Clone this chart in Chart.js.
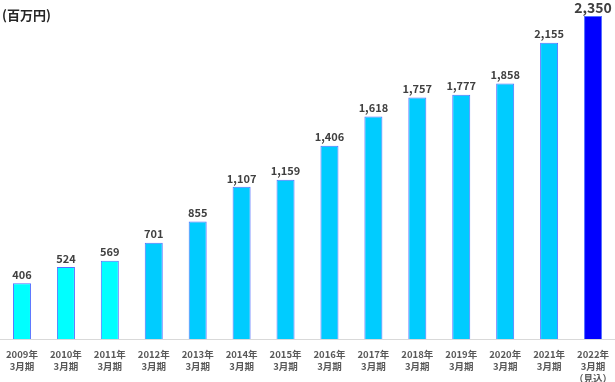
<!DOCTYPE html>
<html><head><meta charset="utf-8">
<script src="https://cdn.jsdelivr.net/npm/chart.js@4/dist/chart.umd.min.js"></script>
<style>
html,body{margin:0;padding:0;background:#fff;}
#wrap{position:relative;width:615px;height:382px;}
#unit{position:absolute;left:2px;top:5px;font:bold 13px 'Noto Sans CJK JP',sans-serif;color:#262626;}
canvas{position:absolute;left:0;top:0;}
</style></head>
<body>
<div id="wrap"><canvas id="c" width="615" height="382"></canvas><div id="unit">(百万円)</div></div>
<script>
const years = ["2009年","2010年","2011年","2012年","2013年","2014年","2015年","2016年","2017年","2018年","2019年","2020年","2021年","2022年"];
const suffix = ["3月期","3月期","3月期","3月期","3月期","3月期","3月期","3月期","3月期","3月期","3月期","3月期","3月期","3月期"];
const extra = ["","","","","","","","","","","","","","（見込）"];
const values = [406,524,569,701,855,1107,1159,1406,1618,1757,1777,1858,2155,2350];
const valueLabels = ["406","524","569","701","855","1,107","1,159","1,406","1,618","1,757","1,777","1,858","2,155","2,350"];
const barColors = ["#00FFFF","#00FFFF","#00FFFF","#00CCFF","#00CCFF","#00CCFF","#00CCFF","#00CCFF","#00CCFF","#00CCFF","#00CCFF","#00CCFF","#00CCFF","#0000FF"];

const labels = years.map((y,i)=> extra[i] ? [y, suffix[i], extra[i]] : [y, suffix[i]]);

const valuePlugin = {
  id:'vals',
  afterDatasetsDraw(chart){
    const ctx = chart.ctx;
    const meta = chart.getDatasetMeta(0);
    ctx.save();
    ctx.textAlign='center';
    ctx.textBaseline='bottom';
    meta.data.forEach((bar,i)=>{
      const last = i===values.length-1;
      ctx.font = (last?'bold 14px':'bold 11px')+" 'Noto Sans CJK JP', sans-serif";
      ctx.fillStyle = '#404040';
      ctx.fillText(valueLabels[i], bar.x, bar.y - (last?1:3));
    });
    ctx.restore();
  }
};

new Chart(document.getElementById('c'),{
  type:'bar',
  data:{labels:labels,datasets:[{data:values,backgroundColor:barColors,borderColor:'#5470ff',borderWidth:1,barPercentage:0.41,categoryPercentage:1}]},
  options:{
    responsive:false,animation:false,
    layout:{padding:{top:16,left:0,right:0,bottom:0}},
    plugins:{legend:{display:false},tooltip:{enabled:false}},
    scales:{
      x:{
        grid:{display:false},
        border:{color:'#d9d9d9',width:1},
        ticks:{color:'#595959',font:{family:"'Noto Sans CJK JP', sans-serif",size:9.5,weight:'bold',lineHeight:1.3},maxRotation:0,autoSkip:false,padding:1},
        afterFit(s){s.height=43; s.paddingLeft=0; s.paddingRight=0;}
      },
      y:{display:false,min:0,max:2350}
    }
  },
  plugins:[valuePlugin]
});
</script>
</body></html>
